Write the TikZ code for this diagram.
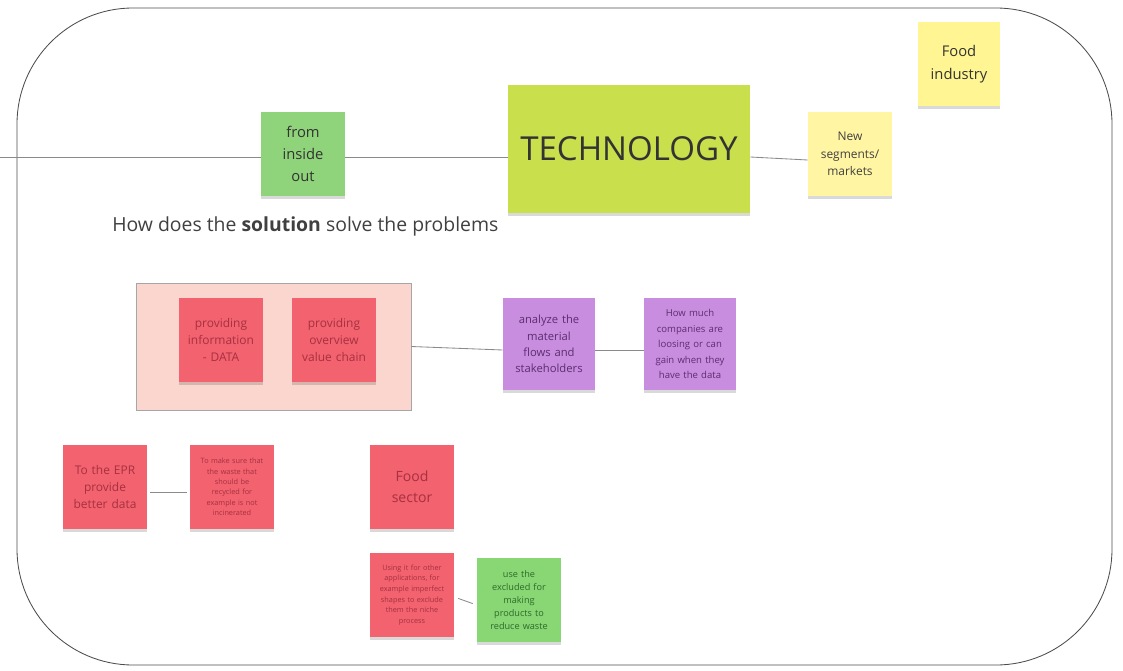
\documentclass[tikz,border=0pt]{standalone}
\usepackage{fontspec}
\setmainfont{Open Sans}
\usetikzlibrary{shadows}
\definecolor{notegreen}{HTML}{8FD47A}
\definecolor{techgreen}{HTML}{C9DF4B}
\definecolor{noteyellow}{HTML}{FFF5A3}
\definecolor{notered}{HTML}{F2626F}
\definecolor{redtext}{HTML}{A8303F}
\definecolor{boxpink}{HTML}{FBD6CE}
\definecolor{notepurple}{HTML}{C98DE0}
\definecolor{purpletext}{HTML}{5C2D70}
\definecolor{greentext}{HTML}{2E6B2A}
\definecolor{linegray}{HTML}{8A8A8A}

\begin{document}
\begin{tikzpicture}[x=0.025cm,y=-0.025cm,
  sticky/.style={inner sep=1pt,minimum width=2.1cm,minimum height=2.1cm,
    text width=1.95cm,align=center,
    drop shadow={shadow xshift=0pt,shadow yshift=-2pt,opacity=0.15,fill=black}},
  link/.style={draw=linegray,line width=0.6pt}]
\useasboundingbox (0,0) rectangle (1123,670);
\draw[black!70,line width=0.6pt,rounded corners=2.9cm] (17,8) rectangle (1112,665);
\node[sticky,fill=notegreen,font=\fontsize{10.5}{15.5}\selectfont,text=black!80] (Inside) at (303,154) {from\\inside\\out};
\node[sticky,fill=techgreen,minimum width=6.05cm,minimum height=3.2cm,text width=5.8cm,font=\fontsize{23.5}{27}\selectfont,text=black!80] (Tech) at (629,149) {TECHNOLOGY};
\node[sticky,fill=noteyellow,font=\fontsize{8.5}{12.5}\selectfont,text=black!75] (Seg) at (850,154) {New\\segments/\\markets};
\node[sticky,fill=noteyellow!90!yellow,minimum width=2.05cm,font=\fontsize{10.5}{16}\selectfont,text=black!80] (FoodI) at (959,64) {Food\\industry};
\node[anchor=west,font=\fontsize{13.8}{16}\selectfont,text=black!75,inner sep=0pt] (Q) at (112,226) {How does the \textbf{solution} solve the problems};
\node[draw=black!35,fill=boxpink,minimum width=6.875cm,minimum height=3.175cm] (Box) at (273.5,346.5) {};
\node[sticky,fill=notered,font=\fontsize{8.5}{12}\selectfont,text=redtext] (Info) at (221,340) {providing\\information\\- DATA};
\node[sticky,fill=notered,font=\fontsize{8.5}{12}\selectfont,text=redtext] (Chain) at (334,340) {providing\\overview\\value chain};
\node[sticky,fill=notepurple,minimum width=2.3cm,minimum height=2.3cm,text width=2.2cm,font=\fontsize{8}{11.5}\selectfont,text=purpletext] (Flows) at (549,344) {analyze the\\material\\flows and\\stakeholders};
\node[sticky,fill=notepurple,minimum width=2.3cm,minimum height=2.3cm,text width=2.2cm,font=\fontsize{6.8}{11}\selectfont,text=purpletext] (Gain) at (690,344) {How much\\companies are\\loosing or can\\gain when they\\have the data};
\node[sticky,fill=notered,font=\fontsize{8.5}{12}\selectfont,text=redtext] (EPR) at (105,487) {To the EPR\\provide\\better data};
\node[sticky,fill=notered,font=\fontsize{5.2}{7.4}\selectfont,text=redtext] (Sure) at (232,487) {To make sure that\\the waste that\\should be\\recycled for\\example is not\\incinerated};
\node[sticky,fill=notered,font=\fontsize{10}{15}\selectfont,text=redtext] (FoodS) at (412,487) {Food\\sector};
\node[sticky,fill=notered,font=\fontsize{5.2}{7.6}\selectfont,text=redtext] (Using) at (412,595) {Using it for other\\applications, for\\example imperfect\\shapes to exclude\\them the niche\\process};
\node[sticky,fill=notegreen!95!green,font=\fontsize{6.5}{9.3}\selectfont,text=greentext] (Excl) at (519,600) {use the\\excluded for\\making\\products to\\reduce waste};
\coordinate (Lft) at (0,157);
\draw[link] (Lft) -- (Inside.west |- Lft);
\draw[link] (Inside.east |- Lft) -- (Tech.west |- Lft);
\draw[link] (Tech.east |- Lft) -- (Seg.west |- 0,160);
\draw[link] (Box.east) -- (Flows.west |- 0,350);
\draw[link] (Flows.east |- 0,350) -- (Gain.west |- 0,350);
\draw[link,shorten <=2pt,shorten >=2pt] (EPR.east |- 0,492) -- (Sure.west |- 0,492);
\draw[link,shorten <=3pt,shorten >=3pt] (Using.east |- 0,597) -- (Excl.west |- 0,605);
\end{tikzpicture}
\end{document}
